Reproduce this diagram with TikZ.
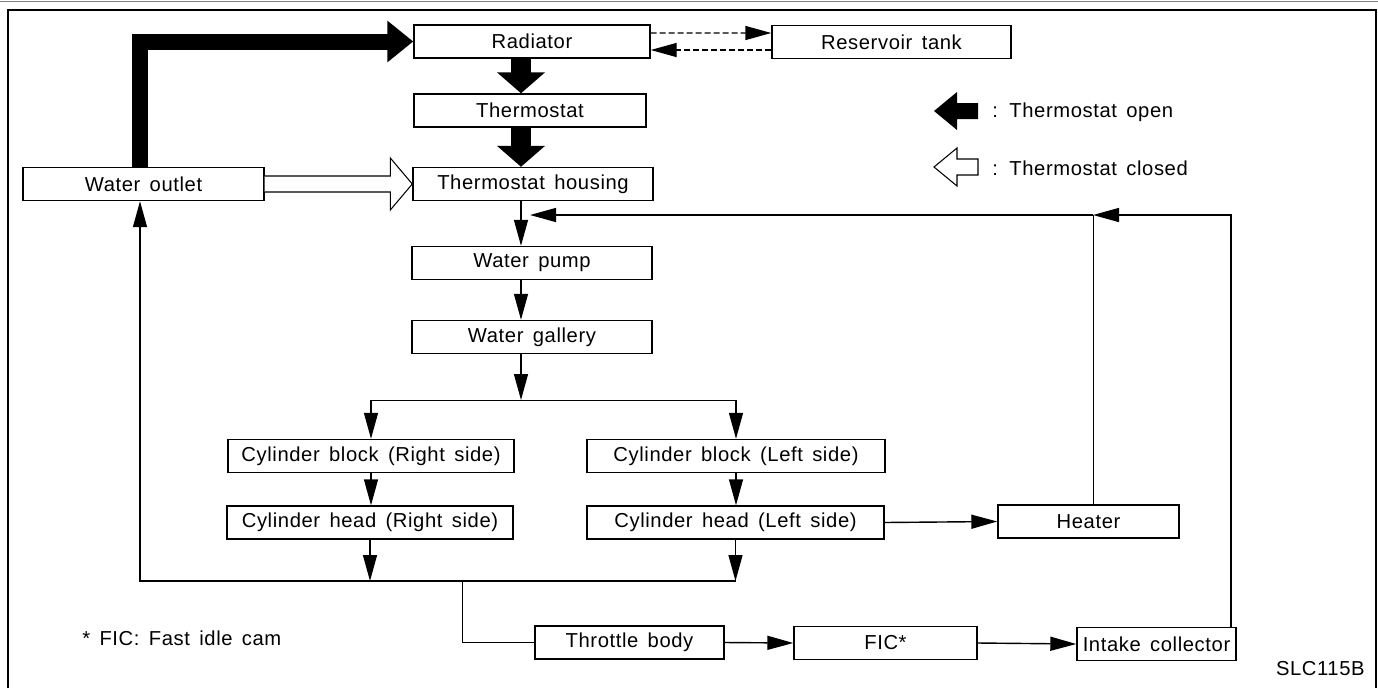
\documentclass[tikz,border=0pt]{standalone}
\usepackage{fontspec}
\setmainfont{Liberation Sans}[LetterSpace=3,WordSpace=1.5]
\usepackage{tikz}
\usetikzlibrary{arrows.meta, positioning, calc}

\begin{document}
\begin{tikzpicture}[
    box/.style={draw, line width=0.8pt, minimum height=0.66cm, inner sep=0pt,
                font=\fontsize{11.5}{13}\selectfont},
    lbl/.style={font=\fontsize{11.5}{13}\selectfont, inner sep=0pt},
    arr/.style={-{Triangle[length=0.52cm, width=0.28cm]}, line width=0.8pt},
    dasharr/.style={arr, dash pattern=on 0.12cm off 0.06cm},
    bigarr/.style={-{Triangle[length=0.52cm, width=0.8cm]}, line width=0.32cm},
    bigdown/.style={-{Triangle[length=0.42cm, width=0.94cm]}, line width=0.40cm},
  ]
  \useasboundingbox (0,0) rectangle (27.56,-13.76);
  % frame
  \draw[gray, line width=0.6pt] (0,-0.03) -- (27.56,-0.03);
  \draw[line width=0.8pt] (0.16,-13.76) -- (0.16,-0.2) -- (27.52,-0.2) -- (27.52,-13.76);

  % upper part
  \node[box, minimum width=4.72cm] (rad)     at (10.64,-0.83) {Radiator};
  \node[box, minimum width=4.78cm] (res)     at (17.83,-0.84) {Reservoir tank};
  \node[box, minimum width=4.64cm] (therm)   at (10.60,-2.21) {Thermostat};
  \node[box, minimum width=4.80cm] (housing) at (10.66,-3.68) {Thermostat housing};
  \node[box, minimum width=4.82cm] (outlet)  at (2.87,-3.68)  {Water outlet};
  \node[box, minimum width=4.80cm] (pump)    at (10.64,-5.26) {Water pump};
  \node[box, minimum width=4.80cm] (gallery) at (10.64,-6.74) {Water gallery};

  % engine
  \node[box, minimum width=5.72cm] (blockR) at (7.42,-9.12)  {Cylinder block (Right side)};
  \node[box, minimum width=5.96cm] (blockL) at (14.72,-9.12) {Cylinder block (Left side)};
  \node[box, minimum width=5.72cm] (headR)  at (7.40,-10.45) {Cylinder head (Right side)};
  \node[box, minimum width=5.94cm] (headL)  at (14.71,-10.45) {Cylinder head (Left side)};
  \node[box, minimum width=3.62cm] (heater) at (21.77,-10.43) {Heater};

  % lower row
  \node[box, minimum width=3.78cm] (throttle) at (12.59,-12.85) {Throttle body};
  \node[box, minimum width=3.66cm] (fic)      at (17.71,-12.86) {FIC*};
  \node[box, minimum width=3.18cm] (intake)   at (23.13,-12.88) {Intake collector};

  \coordinate (col)   at (10.42,0);
  \coordinate (lx)    at (2.80,0);
  \coordinate (split) at (0,-8.0);
  \coordinate (coll)  at (0,-11.62);
  \coordinate (drop)  at (9.24,-11.62);
  \coordinate (hjoin) at (21.86,-4.30);
  \coordinate (ret)   at (10.60,-4.30);
  \coordinate (ix)    at (24.62,0);

  % thermostat open / closed
  \draw[bigarr] (outlet.north -| lx) |- (rad.west);
  \draw[bigdown] (rad.south -| col) -- (therm.north -| col);
  \draw[bigdown] (therm.south -| col) -- (housing.north -| col);
  \draw[line width=0.6pt, fill=white] ($(outlet.east)+(0,0.16)$) -- ($(housing.west)+(-0.44,0.16)$)
    -- ++(0,0.36) -- (housing.west) -- ++(-0.44,-0.52) -- ++(0,0.36) -- ($(outlet.east)+(0,-0.16)$);
  \draw[dasharr] ($(rad.east)+(0,0.17)$) -- ($(res.west)+(0,0.18)$);
  \draw[dasharr] ($(res.west)+(0,-0.16)$) -- ($(rad.east)+(0,-0.17)$);

  % main flow
  \draw[arr] (housing.south -| col) -- (pump.north -| col);
  \draw[arr] (pump.south -| col) -- (gallery.north -| col);
  \draw[arr] (gallery.south -| col) -- (split -| col);
  \draw (split -| blockR.north) -- (split -| blockL.north);
  \draw[arr] (split -| blockR.north) -- (blockR.north);
  \draw[arr] (split -| blockL.north) -- (blockL.north);
  \draw[arr] (blockR.south) -- (headR.north -| blockR.south);
  \draw[arr] (blockL.south) -- (headL.north -| blockL.south);
  \draw[arr] (headR.south) -- (coll -| headR.south);
  \draw[arr] (headL.south) -- (coll -| headL.south);
  \draw[arr] (coll -| headL.south) -- (coll -| lx) -- (outlet.south -| lx);
  \draw (drop) |- (throttle.west);
  \draw[arr] (throttle.east) -- (fic.west);
  \draw[arr] (fic.east) -- (intake.west);
  \draw[arr] (headL.east) -- (heater.west);

  % return to thermostat housing
  \draw (heater.north -| hjoin) -- (hjoin);
  \draw[arr] (intake.north -| ix) |- (hjoin);
  \draw[arr] (hjoin) -- (ret);

  % key
  \fill (18.68,-2.22) -- (19.14,-1.84) -- (19.14,-2.06) -- (19.56,-2.06)
    -- (19.56,-2.38) -- (19.14,-2.38) -- (19.14,-2.60) -- cycle;
  \draw[line width=0.6pt, fill=white] (18.68,-3.34) -- (19.14,-2.96) -- (19.14,-3.18) -- (19.56,-3.18)
    -- (19.56,-3.50) -- (19.14,-3.50) -- (19.14,-3.72) -- cycle;
  \node[lbl, anchor=west] (keyopen)   at (19.84,-2.24) {: Thermostat open};
  \node[lbl, anchor=west] (keyclosed) at (19.84,-3.36) {: Thermostat closed};

  \node[lbl, anchor=west] (note) at (1.64,-12.76) {* FIC: Fast idle cam};
  \node[lbl, anchor=east] (code) at (27.30,-13.38) {SLC115B};
\end{tikzpicture}
\end{document}
